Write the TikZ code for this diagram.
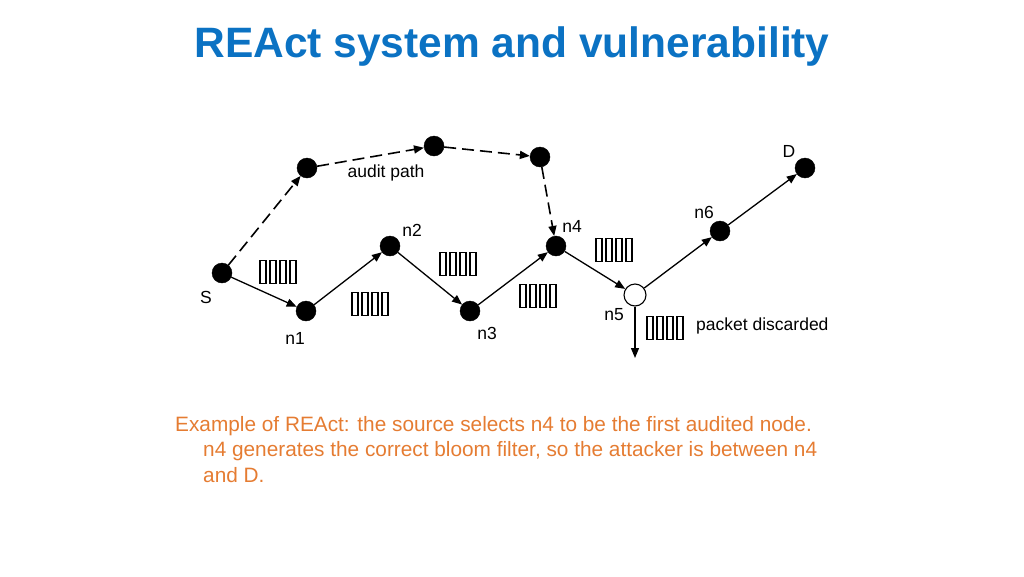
\documentclass[tikz,border=0pt]{standalone}
\usepackage{fontspec}
\setmainfont{Liberation Sans}
\usetikzlibrary{arrows.meta}
\definecolor{ttl}{HTML}{0B72C3}
\definecolor{cap}{HTML}{E57C32}
\begin{document}
\begin{tikzpicture}[x=1pt,y=-1pt,
  dot/.style={circle,fill=black,draw=black,inner sep=0pt,minimum size=20pt},
  odot/.style={circle,fill=white,draw=black,inner sep=0pt,minimum size=20pt},
  lbl/.style={font=\fontsize{17.5}{20}\selectfont,inner sep=0pt},
  conn/.style={-{Triangle[length=10pt,width=8pt]},line width=1.3pt},
  aud/.style={conn,line width=1.6pt,dash pattern=on 12pt off 6pt},
  pkt/.style={draw,line width=1.2pt,minimum width=6pt,minimum height=23pt,inner sep=0pt}]
\useasboundingbox (0,0) rectangle (1024,576);
\node[font=\bfseries\fontsize{42.5}{48}\selectfont,text=ttl] (title) at (512,47) {REAct system and vulnerability};
\node[dot] (S) at (222,273) {};
\node[dot] (n1) at (306,311) {};
\node[dot] (n2) at (390,246) {};
\node[dot] (n3) at (470,311) {};
\node[dot] (n4) at (556,246) {};
\node[odot,minimum size=22pt,line width=1.1pt] (n5) at (635,295) {};
\node[dot] (n6) at (720,231) {};
\node[dot] (D) at (805,168) {};
\node[dot] (a1) at (307,168) {};
\node[dot] (a2) at (434,146) {};
\node[dot] (a3) at (540,157) {};
\coordinate (drop) at (635,358);
\draw[conn] (S) -- (n1);
\draw[conn] (n1) -- (n2);
\draw[conn] (n2) -- (n3);
\draw[conn] (n3) -- (n4);
\draw[conn] (n4) -- (n5);
\draw[conn] (n5) -- (n6);
\draw[conn] (n6) -- (D);
\draw[conn] (n5) -- (drop);
\draw[aud] (S) -- (a1);
\draw[aud] (a1) -- (a2);
\draw[aud] (a2) -- (a3);
\draw[aud] (a3) -- (n4);
\foreach \cx/\cy [count=\k] in {278/272,370/304,458/264,538/296,614/250,665/328}{
  \foreach \i in {0,1,2,3}{
    \node[pkt] (p\k\i) at (\cx-15+10*\i,\cy) {};
  }
}
\node[lbl] (lS) at (206,297) {S};
\node[lbl] (l1) at (295,338) {n1};
\node[lbl] (l2) at (412,230) {n2};
\node[lbl] (l3) at (487,333) {n3};
\node[lbl] (l4) at (572,226) {n4};
\node[lbl] (l5) at (614,315) {n5};
\node[lbl] (l6) at (704,212) {n6};
\node[lbl] (lD) at (789,151) {D};
\node[lbl] (lap) at (386,173) {audit path};
\node[lbl,anchor=west] (lpd) at (696,326) {packet discarded};
\node[anchor=north west,inner sep=0pt,align=left,text=cap,font=\fontsize{20.8}{25.5}\selectfont] (caption) at (175,416)
{Example of REAct: the source selects n4 to be the first audited node.\\
\hspace*{28pt}n4 generates the correct bloom filter, so the attacker is between n4\\
\hspace*{28pt}and D.};
\end{tikzpicture}
\end{document}
